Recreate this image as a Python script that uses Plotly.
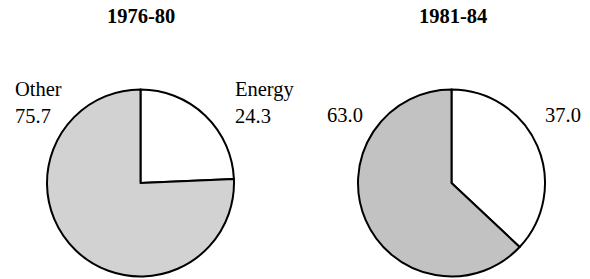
import plotly.graph_objects as go

W, H = 590, 279

periods = ["1976-80", "1981-84"]
categories = ["Energy", "Other"]
energy_share = [24.3, 37.0]
other_share = [75.7, 63.0]
energy_labels = ["Energy<br>24.3", "37.0"]
other_labels = ["Other<br>75.7", "63.0"]

fills = [["#ffffff", "#d2d2d2"], ["#ffffff", "#c2c2c2"]]

# pie placement in pixels (center x, center y, radius)
pies_px = [(140.5, 183.0, 93.5), (451.5, 183.0, 93.5)]

fig = go.Figure()
for i, (cx, cy, r) in enumerate(pies_px):
    fig.add_trace(go.Pie(
        labels=categories,
        values=[energy_share[i], other_share[i]],
        sort=False,
        direction="clockwise",
        rotation=0,
        textinfo="none",
        hoverinfo="skip",
        showlegend=False,
        marker=dict(colors=fills[i], line=dict(color="#000000", width=2)),
        domain=dict(x=[(cx - r) / W, (cx + r) / W],
                    y=[1 - (cy + r) / H, 1 - (cy - r) / H]),
    ))

def px_x(x):
    return x / W

def px_y(y):
    return 1 - y / H

font_lbl = dict(family="Liberation Serif, Times New Roman, serif", size=20.5, color="#000000")
font_ttl = dict(family="Liberation Serif, Times New Roman, serif", size=20.5, color="#000000")

annotations = []
title_x = [140.5, 453.0]
for i, t in enumerate(periods):
    annotations.append(dict(text="<b>%s</b>" % t, x=px_x(title_x[i]), y=px_y(15.5),
                            xref="paper", yref="paper", xanchor="center", yanchor="middle",
                            showarrow=False, font=font_ttl))

# labels: left pie
annotations.append(dict(text=other_labels[0], x=px_x(13), y=px_y(102), xref="paper", yref="paper",
                        xanchor="left", yanchor="middle", align="left", showarrow=False, font=font_lbl))
annotations.append(dict(text=energy_labels[0], x=px_x(233), y=px_y(102), xref="paper", yref="paper",
                        xanchor="left", yanchor="middle", align="left", showarrow=False, font=font_lbl))
# labels: right pie
annotations.append(dict(text=other_labels[1], x=px_x(325), y=px_y(115), xref="paper", yref="paper",
                        xanchor="left", yanchor="middle", align="left", showarrow=False, font=font_lbl))
annotations.append(dict(text=energy_labels[1], x=px_x(543), y=px_y(115), xref="paper", yref="paper",
                        xanchor="left", yanchor="middle", align="left", showarrow=False, font=font_lbl))

fig.update_layout(
    width=W, height=H,
    margin=dict(l=0, r=0, t=0, b=0),
    paper_bgcolor="#ffffff",
    plot_bgcolor="#ffffff",
    annotations=annotations,
    hovermode=False,
)

fig.write_html("out.html", config={"displayModeBar": False},
               post_script="document.body.style.margin='0';document.body.style.overflow='hidden';")
